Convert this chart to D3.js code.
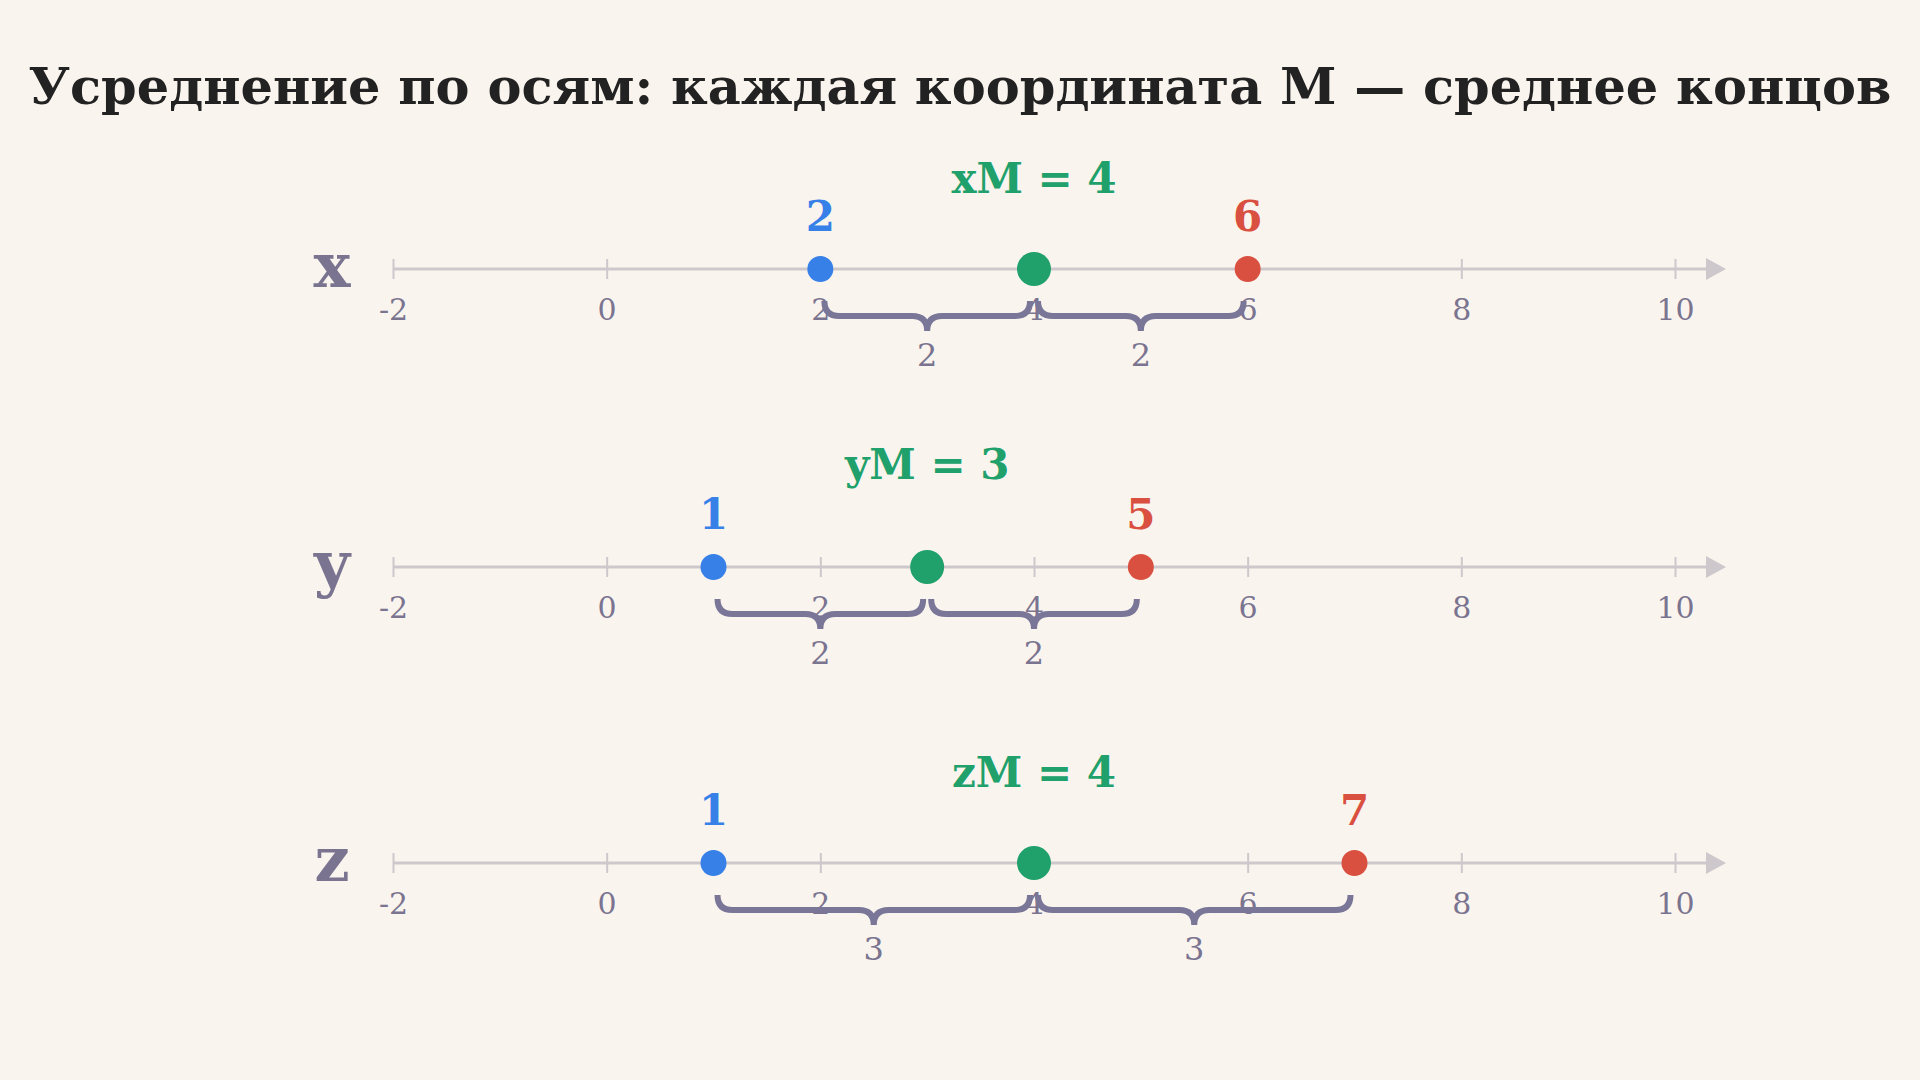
<!DOCTYPE html>
<html><head><meta charset="utf-8">
<script src="https://cdn.jsdelivr.net/npm/d3@7"></script>
<style>body{margin:0;background:#faf4ee}text{font-family:"DejaVu Serif",serif}</style>
</head><body><svg id="c" width="1920" height="1080"></svg>
<script>
// данные
var axes = ["x", "y", "z"];
var startVals = [2, 1, 1];
var endVals = [6, 5, 7];
var midVals = [4, 3, 4];
var tickVals = [-2, 0, 2, 4, 6, 8, 10];

var W = 1920, H = 1080;
var rowY = [269, 567, 863];
var midLabelOff = [76, 88, 76];
var blue = "#3680e8", green = "#20a06a", red = "#d95040", grey = "#7a7490";

var svg = d3.select("#c");
svg.append("rect").attr("width", W).attr("height", H).attr("fill", "#faf4ee");

svg.append("text").attr("x", W / 2).attr("y", 104).attr("text-anchor", "middle")
   .attr("font-size", 51).attr("font-weight", "bold").attr("fill", "#222")
   .text("Усреднение по осям: каждая координата M — среднее концов");

var xScale = d3.scaleLinear().domain([-2, 10]).range([393, 1675]);

// фигурная скобка вниз
function brace(x1, x2, y, d) {
    var m = (x1 + x2) / 2, q = d / 2;
    return "M" + x1 + "," + y +
        " Q" + x1 + "," + (y + q) + " " + (x1 + q) + "," + (y + q) +
        " L" + (m - q) + "," + (y + q) +
        " Q" + m + "," + (y + q) + " " + m + "," + (y + d) +
        " Q" + m + "," + (y + q) + " " + (m + q) + "," + (y + q) +
        " L" + (x2 - q) + "," + (y + q) +
        " Q" + x2 + "," + (y + q) + " " + x2 + "," + y;
}

axes.forEach(function (a, i) {
    var y = rowY[i];
    var g = svg.append("g");

    g.append("line").attr("x1", xScale(-2)).attr("x2", 1710).attr("y1", y).attr("y2", y)
     .attr("stroke", "#cdc8cc").attr("stroke-width", 3);
    g.append("path").attr("d", "M1706," + (y - 11) + " L1726," + y + " L1706," + (y + 11) + "Z")
     .attr("fill", "#cdc8cc");

    var ax = d3.axisBottom(xScale).tickValues(tickVals).tickFormat(String)
               .tickSizeInner(0).tickSizeOuter(0).tickPadding(0);
    var ag = g.append("g").attr("transform", "translate(0," + y + ")").call(ax);
    ag.select(".domain").remove();
    ag.selectAll(".tick line").attr("y1", -10).attr("y2", 10).attr("stroke", "#cdc8cc").attr("stroke-width", 2);
    ag.selectAll(".tick text").attr("y", 51).attr("dy", 0).attr("font-size", 30)
      .attr("font-family", "DejaVu Serif").attr("fill", grey);

    g.append("text").attr("x", 332).attr("y", y + 18).attr("text-anchor", "middle")
     .attr("font-size", 62).attr("font-weight", "bold").attr("fill", grey).text(a);

    var s = xScale(startVals[i]), e = xScale(endVals[i]), m = xScale(midVals[i]);

    [[s, midVals[i] - startVals[i]], [m, endVals[i] - midVals[i]]].forEach(function (p, k) {
        var x1 = k ? m : s, x2 = k ? e : m;
        g.append("path").attr("d", brace(x1 + 4, x2 - 4, y + 32, 30))
         .attr("fill", "none").attr("stroke", "#7a7698").attr("stroke-width", 6);
        g.append("text").attr("x", (x1 + x2) / 2).attr("y", y + 97).attr("text-anchor", "middle")
         .attr("font-size", 32).attr("fill", grey).text(p[1]);
    });

    g.append("circle").attr("cx", s).attr("cy", y).attr("r", 13).attr("fill", blue);
    g.append("circle").attr("cx", e).attr("cy", y).attr("r", 13).attr("fill", red);
    g.append("circle").attr("cx", m).attr("cy", y).attr("r", 17).attr("fill", green);

    g.append("text").attr("x", s).attr("y", y - 38).attr("text-anchor", "middle")
     .attr("font-size", 42).attr("font-weight", "bold").attr("fill", blue).text(startVals[i]);
    g.append("text").attr("x", e).attr("y", y - 38).attr("text-anchor", "middle")
     .attr("font-size", 42).attr("font-weight", "bold").attr("fill", red).text(endVals[i]);
    g.append("text").attr("x", m).attr("y", y - midLabelOff[i]).attr("text-anchor", "middle")
     .attr("font-size", 42).attr("font-weight", "bold").attr("fill", green)
     .text(a + "M = " + midVals[i]);
});
</script></body></html>
